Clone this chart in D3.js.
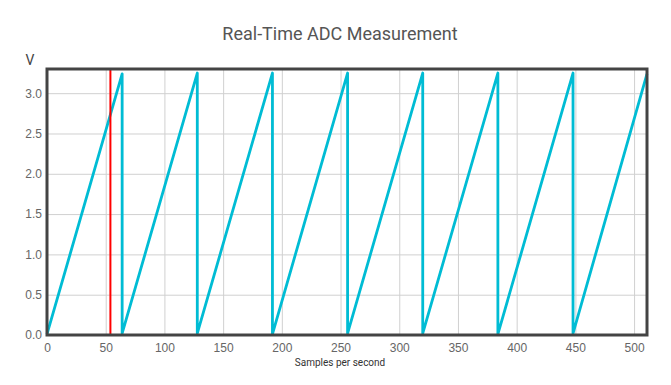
<!DOCTYPE html>
<html>
<head>
<meta charset="utf-8">
<script src="https://cdn.jsdelivr.net/npm/d3@7"></script>
<style>
  body { margin: 0; background: #fff; }
  svg { display: block; font-family: Roboto, "Noto Sans", sans-serif; }
  .tick text { fill: #666; font-size: 12px; }
  .grid line { stroke: #d0d0d0; stroke-width: 1; }
  .grid path { display: none; }
</style>
</head>
<body>
<div id="chart"></div>
<script>
// sawtooth vertices: start and peak of each ramp
const samples = [0, 64, 64, 128, 128, 192, 192, 256, 256, 320, 320, 384, 384, 448, 448, 511];
const volts = [0.01, 3.24, 0.02, 3.25, 0.02, 3.25, 0.01, 3.25, 0.02, 3.25, 0.02, 3.25, 0.01, 3.25, 0.02, 3.24];
const markerSample = 54;
const xTicks = [0, 50, 100, 150, 200, 250, 300, 350, 400, 450, 500];
const yTicks = [0, 0.5, 1.0, 1.5, 2.0, 2.5, 3.0];

const width = 671, height = 385;
const margin = { top: 69, right: 24, bottom: 50, left: 47 };
const innerW = width - margin.left - margin.right;
const innerH = height - margin.top - margin.bottom;

const svg = d3.select("#chart").append("svg")
    .attr("width", width)
    .attr("height", height);

const g = svg.append("g")
    .attr("transform", `translate(${margin.left},${margin.top})`);

const x = d3.scaleLinear().domain([0, 511]).range([0, innerW]);
const y = d3.scaleLinear().domain([0, 3.3]).range([innerH, 0]);

// grid
g.append("g")
    .attr("class", "grid")
    .attr("transform", `translate(0,${innerH})`)
    .call(d3.axisBottom(x).tickValues(xTicks).tickSize(-innerH).tickFormat(""));
g.append("g")
    .attr("class", "grid")
    .call(d3.axisLeft(y).tickValues(yTicks).tickSize(-innerW).tickFormat(""));

// axes labels
const xAxis = g.append("g")
    .attr("transform", `translate(0,${innerH})`)
    .call(d3.axisBottom(x).tickValues(xTicks).tickSize(0).tickPadding(8).tickFormat(d3.format("d")));
xAxis.select(".domain").remove();

const yAxis = g.append("g")
    .call(d3.axisLeft(y).tickValues(yTicks).tickSize(0).tickPadding(5).tickFormat(d3.format(".1f")));
yAxis.select(".domain").remove();

// signal
const data = samples.map((s, i) => ({ s: s, v: volts[i] }));
const line = d3.line().x(d => x(d.s)).y(d => y(d.v));

g.append("path")
    .datum(data)
    .attr("fill", "none")
    .attr("stroke", "#00bcd4")
    .attr("stroke-width", 2.8)
    .attr("stroke-linejoin", "round")
    .attr("d", line);

// marker
g.append("line")
    .attr("x1", x(markerSample)).attr("x2", x(markerSample))
    .attr("y1", 0).attr("y2", innerH)
    .attr("stroke", "#ff0000")
    .attr("stroke-width", 2);

// frame
g.append("rect")
    .attr("width", innerW)
    .attr("height", innerH)
    .attr("fill", "none")
    .attr("stroke", "#444")
    .attr("stroke-width", 3);

// titles
svg.append("text")
    .attr("x", 340).attr("y", 40)
    .attr("text-anchor", "middle")
    .attr("fill", "#555")
    .attr("font-size", 18)
    .text("Real-Time ADC Measurement");

svg.append("text")
    .attr("x", 30).attr("y", 65)
    .attr("text-anchor", "middle")
    .attr("fill", "#444")
    .attr("font-size", 14)
    .text("V");

svg.append("text")
    .attr("x", 340).attr("y", 366)
    .attr("text-anchor", "middle")
    .attr("fill", "#333")
    .attr("font-size", 10)
    .text("Samples per second");
</script>
</body>
</html>
